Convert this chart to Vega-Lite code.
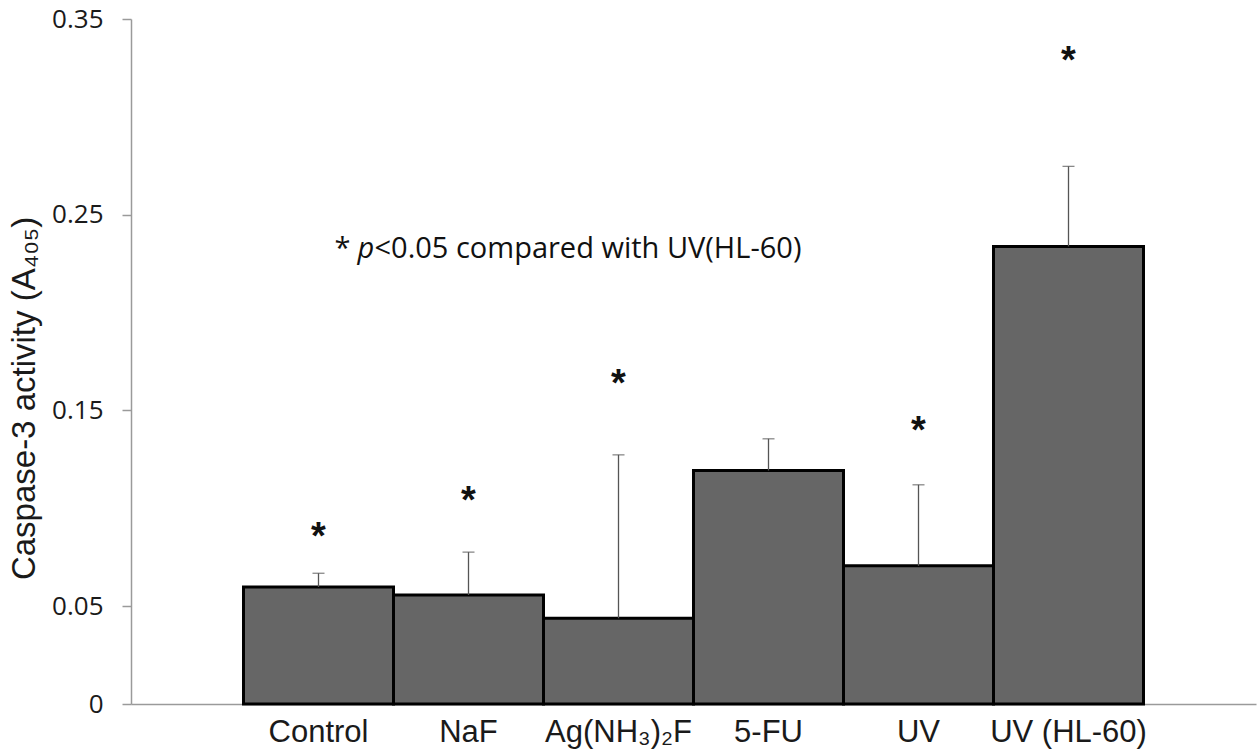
{
  "$schema": "https://vega.github.io/schema/vega-lite/v6.json",
  "width": 1125,
  "height": 685,
  "autosize": {"type": "none"},
  "padding": {"left": 131, "top": 19, "right": 2, "bottom": 52},
  "background": "white",
  "config": {"view": {"stroke": null}},
  "datasets": {
    "main": [
      {"group": "Control", "mean": 0.0598, "upper": 0.0668, "star": 0.089},
      {"group": "NaF", "mean": 0.0557, "upper": 0.0776, "star": 0.1074},
      {"group": "Ag(NH₃)₂F", "mean": 0.0438, "upper": 0.1273, "star": 0.1672},
      {"group": "5-FU", "mean": 0.1193, "upper": 0.1355, "star": null},
      {"group": "UV", "mean": 0.0706, "upper": 0.112, "star": 0.1432},
      {"group": "UV (HL-60)", "mean": 0.2338, "upper": 0.2747, "star": 0.3322}
    ],
    "note": [
      {"group": "Control", "y": 0.2327, "star": "*", "p": "p", "rest": "<0.05 compared with UV(HL-60)"}
    ]
  },
  "encoding": {
    "x": {
      "field": "group",
      "type": "nominal",
      "sort": null,
      "scale": {"paddingInner": 0, "paddingOuter": 0.75},
      "axis": {
        "title": null,
        "ticks": false,
        "domainColor": "#9a9a9a",
        "domainWidth": 1.5,
        "labelAngle": 0,
        "labelFont": "Liberation Sans",
        "labelFontSize": 31,
        "labelColor": "#1a1a1a",
        "labelPadding": 13
      }
    }
  },
  "layer": [
    {
      "data": {"name": "main"},
      "mark": {"type": "bar", "color": "#666666", "stroke": "#000000", "strokeWidth": 3},
      "encoding": {
        "y": {
          "field": "mean",
          "type": "quantitative",
          "scale": {"domain": [0, 0.35], "nice": false, "zero": true},
          "axis": {
            "values": [0, 0.05, 0.15, 0.25, 0.35],
            "labelExpr": "datum.value == 0 ? '0' : format(datum.value, '.2f')",
            "grid": false,
            "domainColor": "#9a9a9a",
            "domainWidth": 1.5,
            "tickColor": "#9a9a9a",
            "tickWidth": 1.5,
            "tickSize": 9,
            "labelPadding": 19,
            "labelFont": "Open Sans",
            "labelFontSize": 26,
            "labelColor": "#1a1a1a",
            "title": "Caspase-3  activity  (A₄₀₅)",
            "titleFont": "Liberation Sans",
            "titleFontSize": 33,
            "titleFontWeight": "normal",
            "titleColor": "#1a1a1a",
            "titlePadding": 10,
            "titleY": 379
          }
        }
      }
    },
    {
      "data": {"name": "main"},
      "mark": {"type": "rule", "color": "#555555", "strokeWidth": 1.3},
      "encoding": {
        "y": {"field": "mean", "type": "quantitative"},
        "y2": {"field": "upper"}
      }
    },
    {
      "data": {"name": "main"},
      "mark": {"type": "tick", "color": "#555555", "thickness": 1.3, "size": 12, "orient": "horizontal"},
      "encoding": {
        "y": {"field": "upper", "type": "quantitative"}
      }
    },
    {
      "data": {"name": "main"},
      "transform": [{"filter": "datum.star != null"}],
      "mark": {"type": "text", "text": "*", "font": "Liberation Sans", "fontSize": 38, "fontWeight": "bold", "baseline": "middle", "dy": 8, "color": "#111111"},
      "encoding": {
        "y": {"field": "star", "type": "quantitative"}
      }
    },
    {
      "data": {"name": "note"},
      "mark": {"type": "text", "font": "Open Sans", "fontSize": 29, "align": "left", "baseline": "middle", "dx": 16, "color": "#111111"},
      "encoding": {
        "y": {"field": "y", "type": "quantitative"},
        "text": {"field": "star"}
      }
    },
    {
      "data": {"name": "note"},
      "mark": {"type": "text", "font": "Open Sans", "fontSize": 29, "fontStyle": "italic", "align": "left", "baseline": "middle", "dx": 39, "color": "#111111"},
      "encoding": {
        "y": {"field": "y", "type": "quantitative"},
        "text": {"field": "p"}
      }
    },
    {
      "data": {"name": "note"},
      "mark": {"type": "text", "font": "Open Sans", "fontSize": 29, "align": "left", "baseline": "middle", "dx": 56, "color": "#111111"},
      "encoding": {
        "y": {"field": "y", "type": "quantitative"},
        "text": {"field": "rest"}
      }
    }
  ]
}
